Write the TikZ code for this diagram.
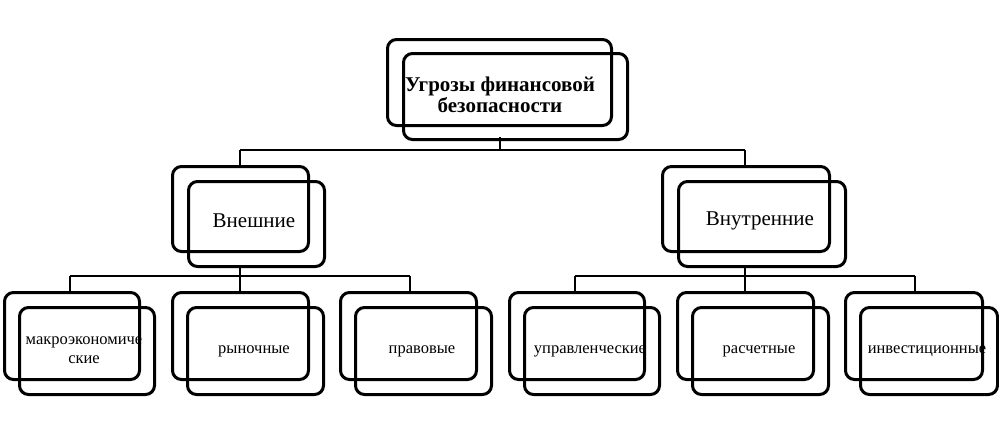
\documentclass[tikz,border=0pt]{standalone}
\usepackage{fontspec}
\setmainfont{Liberation Serif}
\begin{document}
\begin{tikzpicture}[x=1pt,y=-1pt,
  bx/.style={draw,line width=3pt,rounded corners=9pt,inner sep=0pt,anchor=north west},
  conn/.style={line width=2pt},
  small/.style={font=\fontsize{16.5}{19}\selectfont,align=center},
  mid/.style={font=\fontsize{21}{23}\selectfont}]
\useasboundingbox (0,0) rectangle (999,429);
\newcommand\pairbox[7]{% name, bx, by, w, h, dx, dy
  \node[bx,minimum width=#4pt,minimum height=#5pt] (#1b) at (#2,#3) {};
  \node[bx,minimum width=#4pt,minimum height=#5pt] (#1) at (#2+#6,#3+#7) {};
}
\pairbox{top}{386}{38}{224}{86}{16}{14}
\pairbox{ext}{171}{165}{136}{85}{16}{15}
\pairbox{int}{661}{165}{167}{85}{16}{15}
\pairbox{a}{3}{291}{135}{87}{15}{15}
\pairbox{b}{171}{291}{136}{87}{15}{15}
\pairbox{c}{339}{291}{136}{87}{15}{15}
\pairbox{d}{508}{291}{135}{87}{15}{15}
\pairbox{e}{676}{291}{136}{87}{15}{15}
\pairbox{f}{844}{291}{137}{87}{15}{15}
\node[font=\bfseries\fontsize{21}{21}\selectfont,align=center] at (500,95) {Угрозы финансовой\\безопасности};
\node[mid] at (254,221) {Внешние};
\node[mid] at (760,221) {Внутренние};
\node[small] at (84,350) {макроэкономиче\\ские};
\node[small] at (254,351) {рыночные};
\node[small] at (422,351) {правовые};
\node[small] at (590,351) {управленческие};
\node[small] at (759,351) {расчетные};
\node[small] at (927,351) {инвестиционные};
\coordinate (j1) at (500,150);
\draw[conn] (500,137) -- (j1) (240,150) -- (745,150);
\draw[conn] (240,150) -- (240,165) (745,150) -- (745,165);
\draw[conn] (240,266) -- (240,276) (70,276) -- (410,276);
\draw[conn] (70,276) -- (70,291) (240,276) -- (240,291) (410,276) -- (410,291);
\draw[conn] (745,266) -- (745,276) (575,276) -- (915,276);
\draw[conn] (575,276) -- (575,291) (745,276) -- (745,291) (915,276) -- (915,291);
\end{tikzpicture}
\end{document}
